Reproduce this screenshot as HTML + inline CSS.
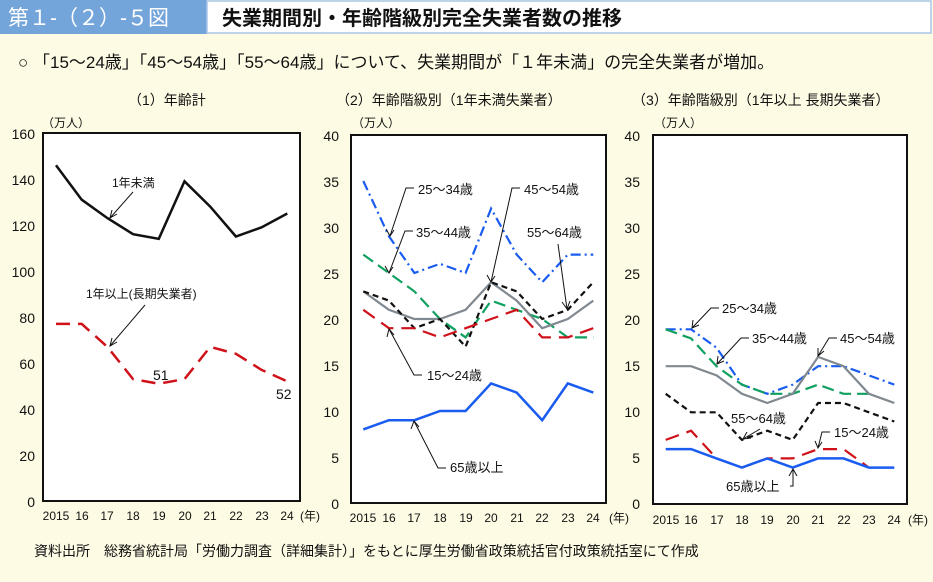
<!DOCTYPE html><html><head><meta charset="utf-8"><style>
body{margin:0;width:933px;height:577px;overflow:hidden;background:#fefbe4;font-family:"Liberation Sans","Noto Sans CJK JP",sans-serif}
</style></head><body>
<svg width="933" height="577" xmlns="http://www.w3.org/2000/svg" font-family="Liberation Sans, Noto Sans CJK JP, sans-serif">
<rect x="0" y="0" width="933" height="577" fill="#fefbe4"/>
<rect x="0" y="0" width="207" height="34" fill="#74a5da"/>
<rect x="207" y="1" width="724" height="32" fill="#fff" stroke="#a9c6e8" stroke-width="1.5"/>
<text x="8" y="25" font-size="21" fill="#fff">第１-（２）-５図</text>
<text x="222" y="25" font-size="20" font-weight="bold" fill="#111">失業期間別・年齢階級別完全失業者数の推移</text>
<text x="18" y="68" font-size="17" fill="#111">○ 「15～24歳」「45～54歳」「55～64歳」について、失業期間が「１年未満」の完全失業者が増加。</text>
<text x="128" y="105" font-size="14" fill="#111">（1）年齢計</text>
<text x="336" y="105" font-size="14" fill="#111">（2）年齢階級別（1年未満失業者）</text>
<text x="632" y="105" font-size="14" fill="#111">（3）年齢階級別（1年以上 長期失業者）</text>
<g font-size="12" fill="#111">
<text x="42" y="127">（万人）</text><text x="352" y="127">（万人）</text><text x="654" y="127">（万人）</text>
</g>
<!-- panel 1 -->
<rect x="43" y="133" width="257" height="368" fill="#fff" stroke="#111" stroke-width="2"/>
<g font-size="14" fill="#111" text-anchor="end">
<text x="35" y="139">160</text><text x="35" y="185">140</text><text x="35" y="231">120</text><text x="35" y="277">100</text><text x="35" y="323">80</text><text x="35" y="369">60</text><text x="35" y="415">40</text><text x="35" y="461">20</text><text x="35" y="507">0</text>
</g>
<polyline fill="none" stroke="#111" stroke-width="2.5" points="56,165.2 81.7,199.7 107.4,218.1 133.1,234.2 158.8,238.8 184.5,181.3 210.2,206.6 235.9,236.5 261.6,227.3 287.3,213.5"/>
<polyline fill="none" stroke="#d0111a" stroke-width="2.5" stroke-dasharray="14,8" points="56,323.9 81.7,323.9 107.4,346.9 133.1,379.1 158.8,383.7 184.5,379.1 210.2,346.9 235.9,353.8 261.6,369.9 287.3,381.4"/>
<g font-size="12" fill="#111"><text x="112" y="187">1年未満</text><text x="86" y="298">1年以上(長期失業者)</text></g>
<text x="153" y="380" font-size="14" fill="#111">51</text><text x="276" y="399" font-size="14" fill="#111">52</text>
<g stroke="#111" stroke-width="1" fill="none"><line x1="133" y1="192" x2="110" y2="218"/><polyline points="112,210 110,218 117,214"/><line x1="145" y1="305" x2="110" y2="346"/><polyline points="112,338 110,346 117,342"/></g>
<g font-size="12" fill="#111" text-anchor="middle"><text x="56" y="520">2015</text><text x="82" y="520">16</text><text x="107" y="520">17</text><text x="133" y="520">18</text><text x="159" y="520">19</text><text x="185" y="520">20</text><text x="210" y="520">21</text><text x="236" y="520">22</text><text x="262" y="520">23</text><text x="287" y="520">24</text><text x="310" y="520">(年)</text></g>
<!-- panel 2 -->
<rect x="351" y="135" width="255" height="368" fill="#fff" stroke="#111" stroke-width="2"/>
<g font-size="14" fill="#111" text-anchor="end">
<text x="339" y="141">40</text><text x="339" y="187">35</text><text x="339" y="233">30</text><text x="339" y="279">25</text><text x="339" y="325">20</text><text x="339" y="371">15</text><text x="339" y="417">10</text><text x="339" y="463">5</text><text x="339" y="509">0</text>
</g>
<g fill="none" stroke-width="2.2">
<polyline stroke="#1a5cf0" stroke-dasharray="10,4,2,4" points="363.3,181 388.9,236.2 414.4,273 440,263.8 465.6,273 491.1,208.6 516.7,254.6 542.2,282.2 567.8,254.6 593.3,254.6"/>
<polyline stroke="#10a060" stroke-dasharray="12,6" points="363.3,254.6 388.9,273 414.4,291.4 440,319 465.6,337.4 491.1,300.6 516.7,309.8 542.2,319 567.8,337.4 593.3,337.4"/>
<polyline stroke="#808890" points="363.3,291.4 388.9,309.8 414.4,319 440,319 465.6,309.8 491.1,282.2 516.7,300.6 542.2,328.2 567.8,319 593.3,300.6"/>
<polyline stroke="#111" stroke-dasharray="6,4" points="363.3,291.4 388.9,300.6 414.4,328.2 440,319 465.6,346.6 491.1,282.2 516.7,291.4 542.2,319 567.8,309.8 593.3,282.2"/>
<polyline stroke="#d0111a" stroke-dasharray="14,8" points="363.3,309.8 388.9,328.2 414.4,328.2 440,337.4 465.6,328.2 491.1,319 516.7,309.8 542.2,337.4 567.8,337.4 593.3,328.2"/>
<polyline stroke="#1a5cf0" stroke-width="2.5" points="363.3,429.4 388.9,420.2 414.4,420.2 440,411 465.6,411 491.1,383.4 516.7,392.6 542.2,420.2 567.8,383.4 593.3,392.6"/>
</g>
<g font-size="13" fill="#111"><text x="418" y="194">25～34歳</text><text x="416" y="237">35～44歳</text><text x="524" y="194">45～54歳</text><text x="527" y="237">55～64歳</text><text x="427" y="380">15～24歳</text><text x="450" y="472">65歳以上</text></g>
<g stroke="#111" stroke-width="1" fill="none">
<polyline points="414,188 406,188 390,236"/><polyline points="386,229 390,236 394,230"/>
<polyline points="413,231 405,231 389,273"/><polyline points="385,266 389,273 393,267"/>
<polyline points="520,188 512,188 491,282"/><polyline points="487,275 491,282 495,276"/>
<line x1="558" y1="244" x2="567" y2="309"/><polyline points="562,302 567,309 570,301"/>
<polyline points="422,375 414,375 389,329"/><polyline points="387,337 389,329 394,335"/>
<polyline points="446,468 438,468 414,421"/><polyline points="411,429 414,421 419,427"/>
</g>
<g font-size="12" fill="#111" text-anchor="middle"><text x="363" y="522">2015</text><text x="389" y="522">16</text><text x="414" y="522">17</text><text x="440" y="522">18</text><text x="466" y="522">19</text><text x="491" y="522">20</text><text x="517" y="522">21</text><text x="542" y="522">22</text><text x="568" y="522">23</text><text x="593" y="522">24</text><text x="619" y="522">(年)</text></g>
<!-- panel 3 -->
<rect x="653" y="135" width="254" height="369" fill="#fff" stroke="#111" stroke-width="2"/>
<g font-size="14" fill="#111" text-anchor="end">
<text x="640" y="141">40</text><text x="640" y="187">35</text><text x="640" y="233">30</text><text x="640" y="279">25</text><text x="640" y="325">20</text><text x="640" y="371">15</text><text x="640" y="417">10</text><text x="640" y="463">5</text><text x="640" y="509">0</text>
</g>
<g fill="none" stroke-width="2.2">
<polyline stroke="#1a5cf0" stroke-dasharray="10,4,2,4" points="665.7,329.3 691.1,329.3 716.5,347.7 741.9,384.6 767.3,393.8 792.7,384.6 818.1,366.2 843.5,366.2 868.9,375.4 894.3,384.6"/>
<polyline stroke="#10a060" stroke-dasharray="12,6" points="665.7,329.3 691.1,338.5 716.5,366.2 741.9,384.6 767.3,393.8 792.7,393.8 818.1,384.6 843.5,393.8 868.9,393.8"/>
<polyline stroke="#808890" points="665.7,366.2 691.1,366.2 716.5,375.4 741.9,393.8 767.3,403 792.7,393.8 818.1,356.9 843.5,366.2 868.9,393.8 894.3,403"/>
<polyline stroke="#111" stroke-dasharray="6,4" points="665.7,393.8 691.1,412.3 716.5,412.3 741.9,439.9 767.3,430.7 792.7,439.9 818.1,403 843.5,403 868.9,412.3 894.3,421.5"/>
<polyline stroke="#d0111a" stroke-dasharray="14,8" points="665.7,439.9 691.1,430.7 716.5,458.4 741.9,467.6 767.3,458.4 792.7,458.4 818.1,449.1 843.5,449.1 868.9,467.6"/>
<polyline stroke="#1a5cf0" stroke-width="2.5" points="665.7,449.1 691.1,449.1 716.5,458.4 741.9,467.6 767.3,458.4 792.7,467.6 818.1,458.4 843.5,458.4 868.9,467.6 894.3,467.6"/>
</g>
<g font-size="13" fill="#111"><text x="722" y="313">25～34歳</text><text x="752" y="343">35～44歳</text><text x="840" y="343">45～54歳</text><text x="731" y="423">55～64歳</text><text x="834" y="437">15～24歳</text><text x="726" y="491">65歳以上</text></g>
<g stroke="#111" stroke-width="1" fill="none">
<polyline points="719,308 711,308 692,328"/><polyline points="693,320 692,328 699,325"/>
<polyline points="749,338 741,338 717,364"/><polyline points="718,356 717,364 724,361"/>
<polyline points="837,338 829,338 818,356"/><polyline points="818,348 818,356 824,351"/>
<line x1="760" y1="429" x2="743" y2="439"/><polyline points="747,432 743,439 751,438"/>
<polyline points="830,432 822,432 818,448"/><polyline points="815,441 818,448 822,442"/>
<polyline points="790,486 793,486 793,470"/><polyline points="789,476 793,469 797,476"/>
</g>
<g font-size="12" fill="#111" text-anchor="middle"><text x="666" y="524">2015</text><text x="691" y="524">16</text><text x="717" y="524">17</text><text x="742" y="524">18</text><text x="767" y="524">19</text><text x="793" y="524">20</text><text x="818" y="524">21</text><text x="844" y="524">22</text><text x="869" y="524">23</text><text x="894" y="524">24</text><text x="918" y="524">(年)</text></g>
<text x="34" y="556" font-size="14" fill="#111">資料出所　総務省統計局「労働力調査（詳細集計）」をもとに厚生労働省政策統括官付政策統括室にて作成</text>
</svg>
</body></html>
